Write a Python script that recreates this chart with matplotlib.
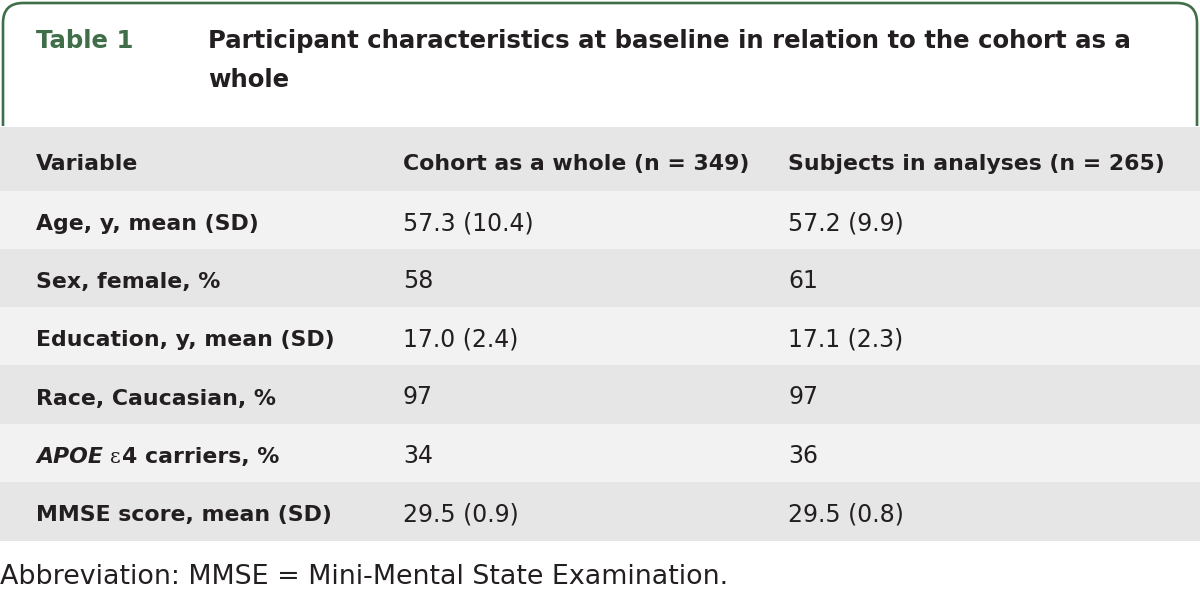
import matplotlib
matplotlib.use('Agg')
import matplotlib.pyplot as plt
from matplotlib.path import Path
from matplotlib.patches import PathPatch, Rectangle

# Table content
table_label = 'Table 1'
title_lines = ['Participant characteristics at baseline in relation to the cohort as a',
               'whole']
headers = ['Variable', 'Cohort as a whole (n = 349)', 'Subjects in analyses (n = 265)']
variables = ['Age, y, mean (SD)', 'Sex, female, %', 'Education, y, mean (SD)',
             'Race, Caucasian, %', 'APOE \u03b54 carriers, %', 'MMSE score, mean (SD)']
cohort = ['57.3 (10.4)', '58', '17.0 (2.4)', '97', '34', '29.5 (0.9)']
subjects = ['57.2 (9.9)', '61', '17.1 (2.3)', '97', '36', '29.5 (0.8)']
footnote = 'Abbreviation: MMSE = Mini-Mental State Examination.'

GREEN = '#3f6e48'
TEXT = '#231f20'
DARK_ROW = '#e6e6e6'
LIGHT_ROW = '#f2f2f2'
FONT = 'DejaVu Sans'
BOLD = 15.8
REG = 17

fig = plt.figure(figsize=(12, 5.92), dpi=100)
ax = fig.add_axes([0, 0, 1, 1])
ax.set_xlim(0, 1200)
ax.set_ylim(592, 0)
ax.axis('off')

# green frame open at the bottom
r = 20
verts = [(3, 126), (3, 3 + r), (3, 3), (3 + r, 3), (1197 - r, 3), (1197, 3),
         (1197, 3 + r), (1197, 126)]
codes = [Path.MOVETO, Path.LINETO, Path.CURVE3, Path.CURVE3, Path.LINETO,
         Path.CURVE3, Path.CURVE3, Path.LINETO]
ax.add_patch(PathPatch(Path(verts, codes), fill=False, edgecolor=GREEN, lw=1.9))

ax.text(36, 48, table_label, color=GREEN, fontsize=17.6, fontweight='bold',
        family=FONT, va='baseline')
for i, line in enumerate(title_lines):
    ax.text(208, 48 + i * 39, line, color=TEXT, fontsize=17.6, fontweight='bold',
            family=FONT, va='baseline')

# rows
col_x = [36, 403, 788]
row_edges = [127, 191, 249, 307, 365, 424, 482, 541]
ax.add_patch(Rectangle((0, row_edges[0]), 1200, row_edges[1] - row_edges[0],
                       facecolor=DARK_ROW, edgecolor='none'))
yb = (row_edges[0] + row_edges[1]) / 2 + 11
for x, h in zip(col_x, headers):
    ax.text(x, yb, h, color=TEXT, fontsize=BOLD, fontweight='bold', family=FONT,
            va='baseline')

fig.canvas.draw()
renderer = fig.canvas.get_renderer()

for i in range(len(variables)):
    top, bot = row_edges[i + 1], row_edges[i + 2]
    color = LIGHT_ROW if i % 2 == 0 else DARK_ROW
    ax.add_patch(Rectangle((0, top), 1200, bot - top, facecolor=color, edgecolor='none'))
    yb = (top + bot) / 2 + 10
    var = variables[i]
    if var.startswith('APOE'):
        t = ax.text(col_x[0], yb, 'APOE', color=TEXT, fontsize=BOLD, fontweight='bold',
                    style='italic', family=FONT, va='baseline')
        bb = t.get_window_extent(renderer)
        ydisp = ax.transData.transform((0, yb))[1]
        e = ax.text(bb.x1 + 7, ydisp, '\u03b5', color=TEXT, fontsize=BOLD - 1,
                    family='DejaVu Serif', va='baseline', transform=None)
        eb = e.get_window_extent(renderer)
        ax.text(eb.x1 + 1, ydisp, '4 carriers, %', color=TEXT, fontsize=BOLD,
                fontweight='bold', family=FONT, va='baseline', transform=None)
    else:
        ax.text(col_x[0], yb, var, color=TEXT, fontsize=BOLD, fontweight='bold',
                family=FONT, va='baseline')
    ax.text(col_x[1], yb, cohort[i], color=TEXT, fontsize=REG, family=FONT, va='baseline')
    ax.text(col_x[2], yb, subjects[i], color=TEXT, fontsize=REG, family=FONT, va='baseline')

ax.text(0, 584, footnote, color=TEXT, fontsize=19.4, family=FONT, va='baseline')

fig.savefig('out.png', dpi=100)
